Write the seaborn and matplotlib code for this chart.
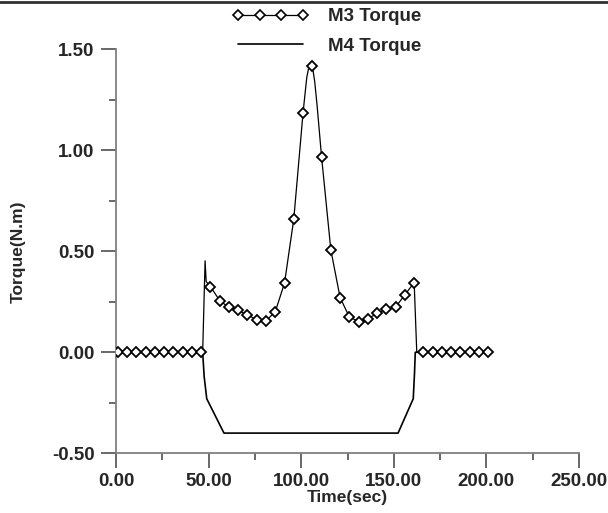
import seaborn as sns
import numpy as np
import pandas as pd
import matplotlib.pyplot as plt
from matplotlib.lines import Line2D
from matplotlib.ticker import MultipleLocator, FormatStrFormatter

# M3 torque, sampled points that carry a marker
m3_mark_t = [1, 6, 11, 16, 21, 26, 31, 36, 41, 46,
             51, 56, 61, 66, 71, 76, 81, 86, 91, 96, 101, 106, 111, 116,
             121, 126, 131, 136, 141, 146, 151, 156, 161,
             166, 171, 176, 181, 186, 191, 196, 201]
m3_mark_v = [0, 0, 0, 0, 0, 0, 0, 0, 0, 0,
             0.325, 0.256, 0.222, 0.207, 0.186, 0.160, 0.156, 0.201, 0.343,
             0.660, 1.186, 1.419, 0.967, 0.507,
             0.271, 0.175, 0.152, 0.166, 0.193, 0.213, 0.224, 0.285, 0.345,
             0, 0, 0, 0, 0, 0, 0, 0]

# extra M3 samples between markers (spikes and peak)
m3_extra_t = [0.0, 46.8, 48.1, 48.7, 103.0, 104.4, 105.2, 107.3, 108.6, 162.4]
m3_extra_v = [0.0, 0.0, 0.453, 0.350, 1.360, 1.425, 1.436, 1.340, 1.220, 0.0]

# M4 torque
m4_t = [0, 46.8, 47.6, 49.0, 58.3, 152.3, 160.5, 161.2, 161.6, 201]
m4_v = [0, 0, -0.12, -0.23, -0.40, -0.40, -0.23, -0.10, 0, 0]

m3_line = pd.DataFrame({'t': m3_mark_t + m3_extra_t,
                        'v': m3_mark_v + m3_extra_v}).sort_values('t')
m3_pts = pd.DataFrame({'t': m3_mark_t, 'v': m3_mark_v})
m4 = pd.DataFrame({'t': m4_t, 'v': m4_v})

sns.set_style('ticks')
plt.rcParams['font.family'] = ['Liberation Sans', 'DejaVu Sans']
plt.rcParams['font.weight'] = 'bold'

fig = plt.figure(figsize=(6.08, 5.13), dpi=100)
ax = fig.add_axes([116 / 608, 1 - 453.3 / 513, 463 / 608, 404 / 513])

sns.lineplot(data=m4, x='t', y='v', ax=ax, color='black', lw=1.2,
             sort=False, estimator=None)
sns.lineplot(data=m3_line, x='t', y='v', ax=ax, color='black', lw=0.9,
             sort=False, estimator=None)
ax.plot(m3_pts['t'], m3_pts['v'], ls='none', marker='D', ms=5.5,
        mfc='white', mec='black', mew=1.3, zorder=5)

ax.set_xlim(0, 250)
ax.set_ylim(-0.5, 1.5)
ax.xaxis.set_major_locator(MultipleLocator(50))
ax.xaxis.set_minor_locator(MultipleLocator(25))
ax.yaxis.set_major_locator(MultipleLocator(0.5))
ax.yaxis.set_minor_locator(MultipleLocator(0.25))
ax.xaxis.set_major_formatter(FormatStrFormatter('%.2f'))
ax.yaxis.set_major_formatter(FormatStrFormatter('%.2f'))

for side in ['top', 'right']:
    ax.spines[side].set_visible(False)
for side in ['left', 'bottom']:
    ax.spines[side].set_color('#808080')
    ax.spines[side].set_linewidth(1.3)

ax.tick_params(which='major', direction='out', length=10.5, width=1.1,
               color='#404040', labelsize=13.5)
ax.tick_params(axis='x', which='major', pad=4)
ax.tick_params(axis='y', which='major', pad=5)
ax.tick_params(which='minor', direction='out', length=5, width=1.1,
               color='#404040')
for lab in ax.get_xticklabels() + ax.get_yticklabels():
    lab.set_fontweight('bold')

ax.set_xlabel('Time(sec)', fontsize=12.5, fontweight='bold', labelpad=0)
ax.set_ylabel('Torque(N.m)', fontsize=12.5, fontweight='bold', labelpad=19)

handles = [
    Line2D([], [], color='black', lw=0.9, marker='D', ms=5.3,
           mfc='white', mec='black', mew=1.2),
    Line2D([], [], color='black', lw=1.2),
]
fig.legend(handles, ['M3 Torque', 'M4 Torque'], loc='upper left',
           bbox_to_anchor=(232 / 608, 1 - 8 / 513), frameon=False,
           numpoints=4, handlelength=4.1, handletextpad=1.0,
           labelspacing=0.67, borderpad=0, borderaxespad=0,
           prop={'size': 13.5, 'weight': 'bold'})

fig.add_artist(Line2D([0, 1], [1 - 2 / 513, 1 - 2 / 513],
                      transform=fig.transFigure, color='#303030', lw=2))

fig.savefig('out.png', dpi=100)
